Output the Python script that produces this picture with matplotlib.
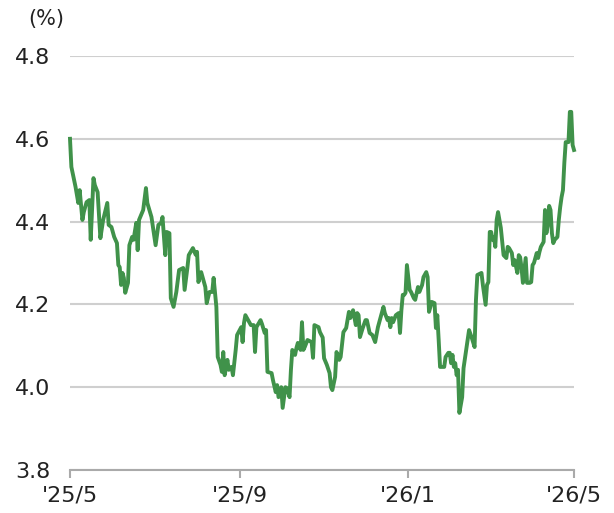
import matplotlib
matplotlib.use("Agg")
from matplotlib import pyplot as plt
import pandas as pd

# days since 2025-05-01 and yield (%)
day_offsets = [
    0, 1, 4, 6, 7, 9, 10, 12, 14, 15, 17, 18, 20, 22, 24, 27, 28, 30, 32, 34,
    35, 36, 37, 38, 39, 40, 42, 43, 45, 46, 48, 49, 50, 53, 55, 56, 59, 62, 64, 66,
    67, 69, 70, 72, 73, 75, 77, 79, 82, 83, 85, 86, 89, 91, 92, 93, 95, 96, 98, 99,
    101, 103, 104, 106, 107, 109, 110, 111, 112, 114, 115, 117, 118, 120, 121, 124, 125, 126, 127, 129,
    131, 133, 134, 135, 138, 139, 141, 142, 143, 146, 147, 149, 150, 151, 153, 154, 156, 157, 159, 160,
    161, 163, 164, 165, 167, 168, 169, 170, 172, 175, 176, 177, 180, 181, 183, 184, 186, 188, 189, 190,
    192, 193, 195, 196, 198, 200, 202, 203, 205, 207, 208, 209, 210, 212, 214, 215, 217, 219, 221, 223,
    225, 227, 228, 230, 231, 232, 233, 234, 236, 238, 239, 240, 241, 242, 243, 244, 246, 247, 249, 250,
    252, 253, 255, 256, 258, 259, 260, 262, 264, 265, 266, 267, 268, 271, 272, 274, 275, 276, 277, 278,
    279, 280, 281, 282, 284, 285, 288, 289, 291, 293, 294, 295, 298, 299, 301, 302, 303, 304, 305, 306,
    307, 308, 309, 310, 312, 314, 316, 317, 318, 320, 321, 322, 324, 325, 326, 327, 328, 330, 331, 333,
    334, 335, 336, 338, 339, 340, 341, 343, 344, 345, 346, 347, 348, 349, 350, 351, 353, 354, 355, 356,
    357, 358, 359, 361, 362, 363, 364, 365,
]
yields = [
    4.600, 4.532, 4.484, 4.445, 4.476, 4.404, 4.423, 4.447, 4.452, 4.356, 4.505, 4.488, 4.471, 4.360, 4.404, 4.445, 4.392, 4.387, 4.363, 4.348,
    4.295, 4.290, 4.247, 4.276, 4.264, 4.228, 4.252, 4.343, 4.363, 4.356, 4.397, 4.331, 4.404, 4.428, 4.481, 4.445, 4.411, 4.343, 4.392, 4.397,
    4.411, 4.319, 4.375, 4.372, 4.215, 4.194, 4.230, 4.283, 4.288, 4.235, 4.288, 4.319, 4.336, 4.320, 4.327, 4.254, 4.278, 4.266, 4.242, 4.203,
    4.230, 4.230, 4.264, 4.194, 4.073, 4.054, 4.037, 4.085, 4.029, 4.066, 4.042, 4.049, 4.029, 4.090, 4.126, 4.145, 4.109, 4.155, 4.174, 4.162,
    4.150, 4.150, 4.085, 4.145, 4.162, 4.153, 4.131, 4.138, 4.037, 4.034, 4.017, 3.988, 4.005, 3.976, 4.000, 3.950, 4.000, 3.998, 3.976, 4.042,
    4.090, 4.078, 4.095, 4.107, 4.090, 4.157, 4.090, 4.097, 4.114, 4.109, 4.071, 4.150, 4.145, 4.133, 4.120, 4.070, 4.054, 4.034, 4.000, 3.993,
    4.025, 4.085, 4.066, 4.073, 4.133, 4.143, 4.182, 4.167, 4.186, 4.150, 4.179, 4.174, 4.121, 4.143, 4.162, 4.162, 4.131, 4.126, 4.109, 4.145,
    4.170, 4.194, 4.179, 4.162, 4.167, 4.145, 4.167, 4.157, 4.174, 4.179, 4.131, 4.186, 4.223, 4.223, 4.228, 4.295, 4.235, 4.230, 4.215, 4.211,
    4.242, 4.230, 4.247, 4.266, 4.278, 4.266, 4.182, 4.206, 4.203, 4.143, 4.174, 4.114, 4.049, 4.049, 4.073, 4.083, 4.083, 4.058, 4.078, 4.049,
    4.058, 4.029, 4.042, 3.938, 3.976, 4.046, 4.114, 4.138, 4.119, 4.097, 4.211, 4.271, 4.276, 4.247, 4.199, 4.247, 4.254, 4.375, 4.375, 4.356,
    4.363, 4.339, 4.404, 4.423, 4.385, 4.319, 4.312, 4.339, 4.336, 4.324, 4.295, 4.307, 4.276, 4.319, 4.314, 4.288, 4.252, 4.312, 4.252, 4.252,
    4.254, 4.295, 4.300, 4.324, 4.312, 4.327, 4.339, 4.351, 4.428, 4.372, 4.392, 4.438, 4.428, 4.372, 4.348, 4.356, 4.363, 4.404, 4.435, 4.459,
    4.476, 4.542, 4.592, 4.592, 4.665, 4.665, 4.585, 4.573,
]
tick_labels = ["'25/5", "'25/9", "'26/1", "'26/5"]
tick_dates = ["2025-05-01", "2025-09-01", "2026-01-01", "2026-05-01"]

start = pd.Timestamp("2025-05-01")
dates = [start + pd.Timedelta(days=d) for d in day_offsets]

fig = plt.figure(figsize=(6.14, 5.13), dpi=100)
ax = fig.add_axes([70 / 614, 1 - 470 / 513, 504 / 614, 414 / 513])

ax.plot(dates, yields, color="#40924a", linewidth=2.8, solid_joinstyle="round", clip_on=False)

ax.set_ylim(3.8, 4.8)
ax.set_yticks([3.8, 4.0, 4.2, 4.4, 4.6, 4.8])
ax.set_yticklabels(["3.8", "4.0", "4.2", "4.4", "4.6", "4.8"])
ax.set_xlim(pd.Timestamp(tick_dates[0]), pd.Timestamp(tick_dates[-1]))
ax.set_xticks([pd.Timestamp(t) for t in tick_dates])
ax.set_xticklabels(tick_labels)

ax.grid(axis="y", color="#cfcfcf", linewidth=1.5)
ax.set_axisbelow(True)
for s in ["left", "right", "top"]:
    ax.spines[s].set_visible(False)
ax.spines["bottom"].set_color("#aaaaaa")
ax.spines["bottom"].set_linewidth(1.5)

ax.tick_params(axis="y", length=0, pad=14, labelsize=16, labelcolor="#222222")
ax.tick_params(axis="x", length=6, width=1.5, color="#aaaaaa", pad=5, labelsize=16, labelcolor="#222222")

fig.text(28 / 614, 1 - 19 / 513, "(%)", fontsize=15, color="#222222", va="center", ha="left")

fig.savefig("out.png", dpi=100)
